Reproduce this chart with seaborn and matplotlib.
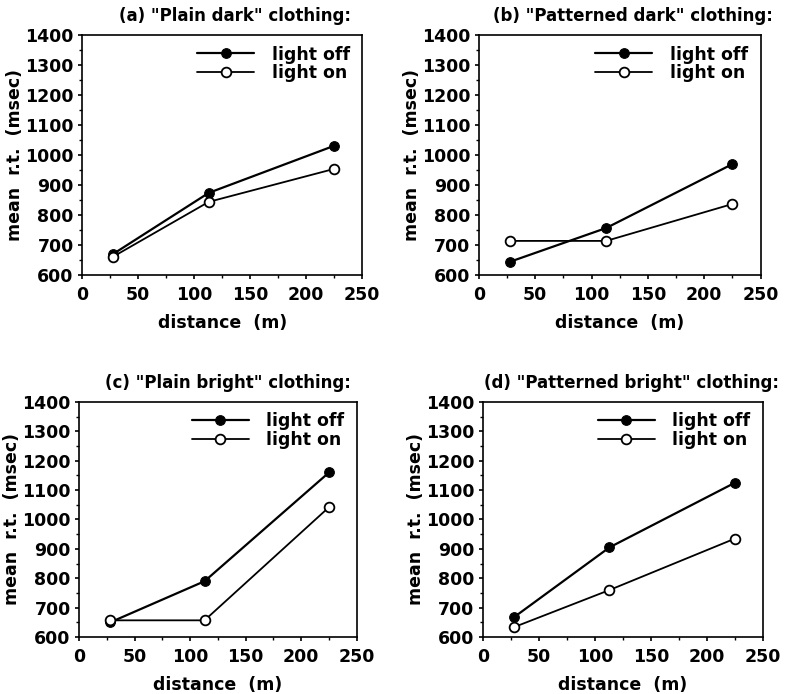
import numpy as np
import pandas as pd
import matplotlib
matplotlib.use("Agg")
import matplotlib.pyplot as plt
import seaborn as sns
from matplotlib.ticker import MultipleLocator

# data
distance = [28, 113, 225]
titles = [
    '(a) "Plain dark" clothing:',
    '(b) "Patterned dark" clothing:',
    '(c) "Plain bright" clothing:',
    '(d) "Patterned bright" clothing:',
]
light_off = [
    [670, 873, 1030],
    [644, 756, 969],
    [650, 790, 1160],
    [668, 905, 1125],
]
light_on = [
    [661, 843, 953],
    [713, 713, 836],
    [657, 657, 1042],
    [634, 760, 935],
]

sns.set_theme(style="ticks")
plt.rcParams["font.family"] = ["DejaVu Sans"]
plt.rcParams["font.weight"] = "bold"
for key in ["text.color", "axes.labelcolor", "xtick.color", "ytick.color"]:
    plt.rcParams[key] = "black"

fig = plt.figure(figsize=(7.85, 6.94), dpi=100)
boxes = [
    [0.1045, 0.604, 0.357, 0.346],
    [0.610, 0.604, 0.359, 0.346],
    [0.1006, 0.082, 0.354, 0.339],
    [0.615, 0.082, 0.357, 0.339],
]
title_x = [0.545, 0.545, 0.535, 0.53]

fs = 12.5
for i, box in enumerate(boxes):
    ax = fig.add_axes(box)
    df = pd.DataFrame({"distance": distance, "off": light_off[i], "on": light_on[i]})
    sns.lineplot(data=df, x="distance", y="off", ax=ax, color="black", lw=1.6,
                 marker="o", markersize=7, markerfacecolor="black",
                 markeredgecolor="black", label="light off")
    sns.lineplot(data=df, x="distance", y="on", ax=ax, color="black", lw=1.3,
                 marker="o", markersize=7, markerfacecolor="white",
                 markeredgecolor="black", markeredgewidth=1.3, label="light on")
    ax.set_xlim(0, 250)
    ax.set_ylim(600, 1400)
    ax.xaxis.set_major_locator(MultipleLocator(50))
    ax.xaxis.set_minor_locator(MultipleLocator(25))
    ax.yaxis.set_major_locator(MultipleLocator(100))
    ax.yaxis.set_minor_locator(MultipleLocator(50))
    ax.tick_params(which="major", direction="out", length=3, width=1.2,
                   labelsize=fs, colors="black")
    ax.tick_params(axis="x", which="major", pad=5)
    ax.tick_params(axis="y", which="major", pad=3)
    ax.tick_params(which="minor", direction="out", length=2, width=1, colors="black")
    for lab in ax.get_xticklabels() + ax.get_yticklabels():
        lab.set_fontweight("bold")
    for sp in ax.spines.values():
        sp.set_visible(True)
        sp.set_linewidth(1.2)
        sp.set_color("black")
    ax.set_xlabel("distance  (m)", fontsize=fs, fontweight="bold", labelpad=7)
    ax.set_ylabel("mean  r.t.  (msec)", fontsize=fs, fontweight="bold", labelpad=1)
    ax.set_title(titles[i], fontsize=12, fontweight="bold", x=title_x[i], pad=10)
    leg = ax.legend(loc="upper right", bbox_to_anchor=(0.955, 0.955),
                    frameon=False, handlelength=3.3, fontsize=fs,
                    borderaxespad=0, borderpad=0, labelspacing=0.05,
                    handletextpad=1.0)
    for t in leg.get_texts():
        t.set_fontweight("bold")
        t.set_color("black")

fig.savefig("out.png", dpi=100, facecolor="white")
